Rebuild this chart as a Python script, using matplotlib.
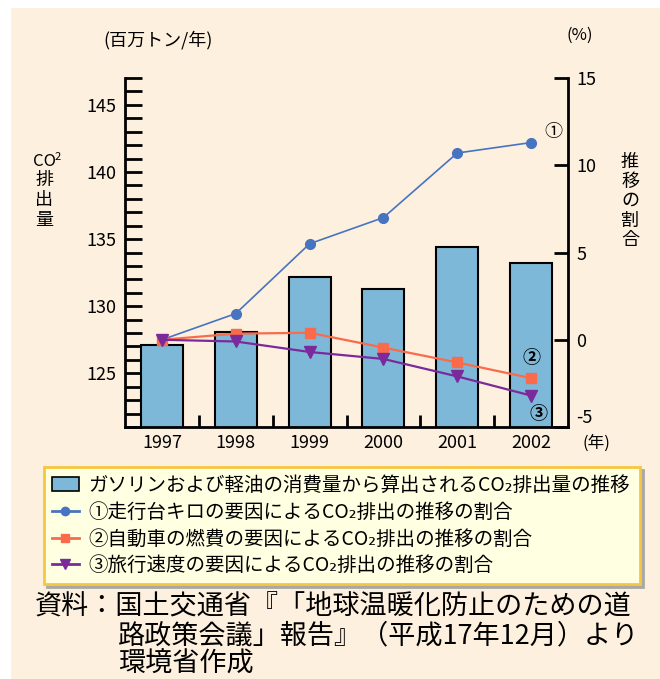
import numpy as np
import matplotlib
matplotlib.use('Agg')
import matplotlib.pyplot as plt
from matplotlib.patches import Rectangle
from matplotlib.lines import Line2D
from matplotlib.ticker import MultipleLocator, FixedLocator

plt.rcParams['font.family'] = ['Noto Sans CJK JP', 'DejaVu Sans']
plt.rcParams['axes.unicode_minus'] = False

# données
annees = ['1997', '1998', '1999', '2000', '2001', '2002']
co2_emis = [127.1, 128.1, 132.2, 131.3, 134.4, 133.2]          # 百万トン/年
part_distance = [0.0, 1.5, 5.5, 7.0, 10.7, 11.3]               # ① %
part_conso = [0.0, 0.35, 0.4, -0.45, -1.3, -2.2]               # ② %
part_vitesse = [0.0, -0.1, -0.7, -1.1, -2.1, -3.2]             # ③ %

legende = ['ガソリンおよび軽油の消費量から算出されるCO₂排出量の推移',
           '①走行台キロの要因によるCO₂排出の推移の割合',
           '②自動車の燃費の要因によるCO₂排出の推移の割合',
           '③旅行速度の要因によるCO₂排出の推移の割合']

c_fond = '#FDF0DE'
c_barre = '#7EB8D8'
c_bleu = '#4674C0'
c_orange = '#FA6B4B'
c_violet = '#7B2A9C'

W, H = 660, 679
fig = plt.figure(figsize=(W/100, H/100), dpi=100)
fig.patch.set_facecolor('white')
fig.patches.append(Rectangle((11/W, 0), 1, 1-8/H, transform=fig.transFigure,
                             facecolor=c_fond, edgecolor='none', zorder=-10))

def px(x, y):
    return x/W, 1-y/H

ax = fig.add_axes([125/W, 1-427/H, (568-125)/W, (427-78)/H])
ax.patch.set_alpha(0)
x = np.arange(len(annees))
ax.bar(x, co2_emis, width=0.57, color=c_barre, edgecolor='black', linewidth=1.5, zorder=2)
ax.set_ylim(121, 147)
ax.set_xlim(-0.5, 5.5)
ax.yaxis.set_major_locator(FixedLocator([125, 130, 135, 140, 145]))
ax.yaxis.set_minor_locator(MultipleLocator(1))
ax.tick_params(axis='y', which='both', direction='in', length=12, width=2, labelsize=13, pad=6)
ax.set_xticks(x)
ax.set_xticklabels(annees)
ax.xaxis.set_minor_locator(FixedLocator(x[:-1] + 0.5))
ax.tick_params(axis='x', which='major', length=0, labelsize=13, pad=5)
ax.tick_params(axis='x', which='minor', direction='in', length=9, width=2)
ax.spines['top'].set_visible(False)
ax.spines['right'].set_visible(False)
ax.spines['left'].set_linewidth(2)
ax.spines['bottom'].set_linewidth(2)

ax2 = ax.twinx()
ax2.plot(x, part_distance, color=c_bleu, lw=1.2, marker='o', ms=7, zorder=3)
ax2.plot(x, part_conso, color=c_orange, lw=1.6, marker='s', ms=7, zorder=3)
ax2.plot(x, part_vitesse, color=c_violet, lw=1.6, marker='v', ms=8, zorder=3)
ax2.set_ylim(-5, 15)
ax2.set_yticks([-5, 0, 5, 10, 15])
ax2.tick_params(axis='y', direction='in', length=10, width=2, labelsize=13, pad=6)
ax2.get_yticklabels()[0].set_va('bottom')
ax2.spines['top'].set_visible(False)
ax2.spines['left'].set_visible(False)
ax2.spines['bottom'].set_visible(False)
ax2.spines['right'].set_linewidth(2)

ax2.text(5.3, 11.9, '①', fontsize=13, ha='center', va='center')
ax2.text(5.0, -1.0, '②', fontsize=13, ha='center', va='center', fontweight='bold')
ax2.text(5.1, -4.2, '③', fontsize=13, ha='center', va='center', fontweight='bold')

# textes autour des axes
fig.text(*px(158, 40), '(百万トン/年)', fontsize=13, ha='center', va='center')
fig.text(*px(580, 35), '(%)', fontsize=12, ha='center', va='center')
fig.text(*px(596, 443), '(年)', fontsize=12, ha='center', va='center')
fig.text(*px(44, 162), 'CO', fontsize=12, ha='center', va='center')
fig.text(*px(58, 157), '2', fontsize=8, ha='center', va='center')
for i, ch in enumerate('排出量'):
    fig.text(*px(44, 180 + 20*i), ch, fontsize=13, ha='center', va='center')
for i, ch in enumerate('推移の割合'):
    fig.text(*px(630, 162 + 19.5*i), ch, fontsize=13, ha='center', va='center')

# légende
poignees = [Rectangle((0, 0), 1, 1, facecolor=c_barre, edgecolor='black', lw=1.2),
            Line2D([], [], color=c_bleu, lw=2, marker='o', ms=6),
            Line2D([], [], color=c_orange, lw=2, marker='s', ms=6),
            Line2D([], [], color=c_violet, lw=2, marker='v', ms=7)]
leg = fig.legend(poignees, legende, loc='upper left',
                 bbox_to_anchor=(44/W, 1-580/H, 596/W, 113/H), mode='expand',
                 fontsize=14, frameon=True, fancybox=False, borderaxespad=0,
                 handlelength=1.4, handletextpad=0.5, labelspacing=0.3,
                 borderpad=0.4, shadow={'color': '#A8A8A8', 'alpha': 1})
leg.get_frame().set_facecolor('#FFFFE2')
leg.get_frame().set_edgecolor('#F7C640')
leg.get_frame().set_linewidth(2)
leg.get_frame().set_alpha(1)

# source
fig.text(*px(35, 607), '資料：国土交通省『「地球温暖化防止のための道', fontsize=19.5, va='center')
fig.text(*px(118, 636), '路政策会議」報告』（平成17年12月）より', fontsize=19.5, va='center')
fig.text(*px(118, 664), '環境省作成', fontsize=19.5, va='center')

plt.savefig('out.png', dpi=100)
